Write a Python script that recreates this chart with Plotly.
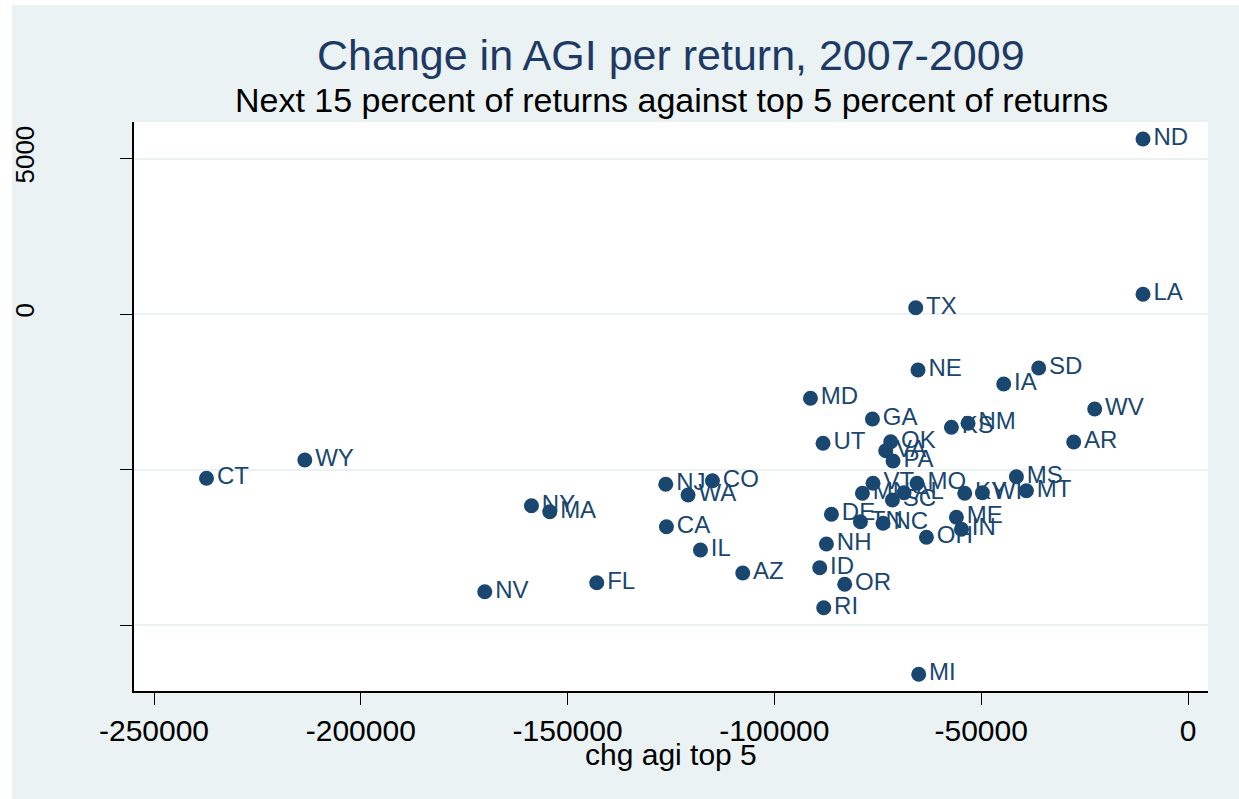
import plotly.graph_objects as go

# ---- data ----
states = ["ND", "LA", "TX", "NE", "SD", "IA", "WV", "MD", "GA", "KS", "NM", "AR",
          "UT", "OK", "VA", "PA", "WY", "CT", "MS", "MT", "KY", "WI", "VT", "MO",
          "MN", "AL", "SC", "DE", "TN", "NC", "ME", "IN", "OH", "NJ", "CO", "WA",
          "CA", "IL", "NH", "ID", "OR", "RI", "MI", "AZ", "FL", "NV", "NY", "MA"]
chg_top5 = [-10880, -10880, -65830, -65275, -36094, -44556, -22556, -91287, -76298, -57200, -53186, -27633,
            -88241, -71874, -73083, -71318, -213543, -237308, -41485, -39068, -53984, -49705, -76153, -65516,
            -78716, -68659, -71463, -86210, -79199, -73735, -55991, -54782, -63243, -126269, -114979, -120878,
            -126100, -117880, -87419, -89039, -82995, -88072, -65105, -107654, -142951, -170027, -158737, -154313]
chg_next15 = [5627, 636, 206, -1796, -1732, -2246, -3050, -2706, -3371, -3638, -3509, -4110,
              -4152, -4100, -4389, -4720, -4688, -5276, -5225, -5675, -5758, -5739, -5437, -5437,
              -5758, -5739, -5974, -6433, -6671, -6722, -6530, -6915, -7172, -5469, -5353, -5813,
              -6832, -7580, -7388, -8149, -8683, -9434, -11575, -8320, -8631, -8920, -6157, -6350]

x_ticks = [-250000, -200000, -150000, -100000, -50000, 0]
x_tick_labels = ["-250000", "-200000", "-150000", "-100000", "-50000", "0"]
y_ticks = [5000, 0, -5000, -10000]
y_tick_labels = ["5000", "0", "", ""]

title_text = "Change in AGI per return, 2007-2009"
subtitle_text = "Next 15 percent of returns against top 5 percent of returns"
x_title = "chg agi top 5"

# ---- styling ----
W, H = 1239, 799
ML, MR, MT, MB = 134, 31, 122, 108
PW = W - ML - MR
PH = H - MT - MB
NAVY = "#1a476f"
BG = "#eaf2f3"
FONT = "Liberation Sans, Arial, Helvetica, sans-serif"


def px_to_paper_x(px):
    return (px - ML) / PW


def px_to_paper_y(py):
    return (H - MB - py) / PH


fig = go.Figure()
fig.add_trace(go.Scatter(
    x=chg_top5, y=chg_next15, text=states,
    mode="markers+text", textposition="middle right",
    marker=dict(size=15, color=NAVY, line=dict(width=0)),
    textfont=dict(family=FONT, size=24, color=NAVY),
    cliponaxis=False, showlegend=False, hoverinfo="x+y+text",
))

fig.update_layout(
    width=W, height=H,
    margin=dict(l=ML, r=MR, t=MT, b=MB, pad=0),
    paper_bgcolor=BG, plot_bgcolor="white",
    font=dict(family=FONT, color="black"),
    showlegend=False,
    xaxis=dict(
        range=[-254836, 4836], tickvals=x_ticks, ticktext=x_tick_labels,
        automargin=False,
        showgrid=False, zeroline=False,
        showline=True, linecolor="black", linewidth=1.5,
        ticks="outside", ticklen=12, tickwidth=1.2, tickcolor="black",
        tickfont=dict(family=FONT, size=30, color="black"),
    ),
    yaxis=dict(
        range=[-12111, 6173], tickvals=y_ticks, ticktext=y_tick_labels,
        automargin=False,
        showgrid=True, gridcolor=BG, gridwidth=2, zeroline=False,
        showline=True, linecolor="black", linewidth=1.5,
        ticks="outside", ticklen=12, tickwidth=1.2, tickcolor="black",
        tickangle=-90, ticklabelstandoff=76,
        tickfont=dict(family=FONT, size=26, color="black"),
    ),
    annotations=[
        dict(text=title_text, xref="paper", yref="paper", x=0.5, y=px_to_paper_y(55),
             xanchor="center", yanchor="middle", showarrow=False,
             font=dict(family=FONT, size=43, color="#1e3a64")),
        dict(text=subtitle_text, xref="paper", yref="paper", x=0.5, y=px_to_paper_y(100),
             xanchor="center", yanchor="middle", showarrow=False,
             font=dict(family=FONT, size=34, color="black")),
        dict(text=x_title, xref="paper", yref="paper", x=0.5, y=px_to_paper_y(754),
             xanchor="center", yanchor="middle", showarrow=False,
             font=dict(family=FONT, size=30, color="black")),
    ],
    shapes=[
        dict(type="rect", xref="paper", yref="paper", layer="below",
             x0=px_to_paper_x(0), x1=px_to_paper_x(12), y0=px_to_paper_y(H), y1=px_to_paper_y(0),
             fillcolor="white", line=dict(width=0)),
        dict(type="rect", xref="paper", yref="paper", layer="below",
             x0=px_to_paper_x(0), x1=px_to_paper_x(W), y0=px_to_paper_y(5), y1=px_to_paper_y(0),
             fillcolor="white", line=dict(width=0)),
    ],
)

fig.write_html("out.html", config={"displayModeBar": False},
               post_script="document.body.style.margin='0';")
